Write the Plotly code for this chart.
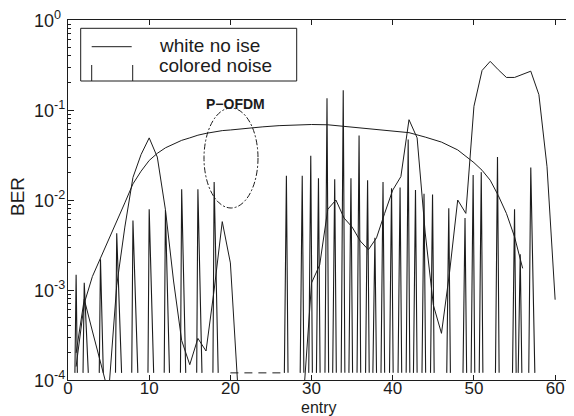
import math
import plotly.graph_objects as go

# ---------------- data ----------------
# smooth curve (white noise)
white_entry = [1, 2, 3, 4, 5, 6, 7, 8, 9, 10, 11, 12, 13, 14, 15, 16, 17, 18, 19, 20,
               22, 24, 26, 28, 30, 32, 34, 36, 38, 40, 42, 44, 46, 48, 50, 51, 52, 53,
               54, 55, 56]
white_ber = [1.41e-4, 7.1e-4, 1.41e-3, 2.24e-3, 3.55e-3, 5.6e-3, 9.3e-3, 1.51e-2, 2.09e-2,
             2.75e-2, 3.3e-2, 3.8e-2, 4.2e-2, 4.6e-2, 4.9e-2, 5.25e-2, 5.5e-2, 5.7e-2,
             5.9e-2, 6.0e-2, 6.3e-2, 6.5e-2, 6.7e-2, 6.85e-2, 6.9e-2, 6.85e-2, 6.6e-2,
             6.3e-2, 6.1e-2, 5.8e-2, 5.6e-2, 5.0e-2, 4.4e-2, 3.6e-2, 2.6e-2, 2.14e-2,
             1.66e-2, 1.12e-2, 7.1e-3, 3.9e-3, 1.74e-3]

# colored noise: isolated spikes (zero-BER samples are dropped on the log axis)
spike_rise = [0.85, 1.85, 3.85, 5.85, 7.85, 9.85, 11.85, 13.85, 15.85, 17.85,
              26.65, 28.6, 29.65, 30.6, 31.65, 32.6, 33.65, 34.6, 35.6, 36.65,
              37.55, 38.55, 39.6, 40.65, 41.65, 42.55, 43.6, 44.65, 46.65, 48.65,
              49.65, 50.65, 52.65, 54.75, 55.45, 56.75]
spike_entry = [1.0, 2.0, 4.0, 6.0, 8.0, 10.0, 12.0, 14.0, 16.0, 18.0,
               26.9, 28.85, 29.9, 30.85, 31.9, 32.85, 33.9, 34.85, 35.85, 36.9,
               37.8, 38.8, 39.85, 40.9, 41.9, 42.8, 43.85, 44.9, 46.9, 48.9,
               49.9, 50.9, 52.9, 55.0, 55.7, 57.0]
spike_fall = [1.15, 2.5, 4.35, 6.6, 8.6, 10.55, 12.5, 14.5, 16.5, 18.5,
              27.1, 29.05, 30.1, 31.05, 32.1, 33.05, 34.1, 35.05, 36.05, 37.1,
              38.0, 39.0, 40.05, 41.1, 42.1, 43.0, 44.05, 45.1, 47.1, 49.1,
              50.1, 51.1, 53.1, 55.2, 55.9, 57.5]
spike_ber = [1.48e-3, 1.2e-3, 2.19e-3, 4.27e-3, 5.9e-3, 7.9e-3, 7.8e-3, 1.32e-2, 1.32e-2,
             1.58e-2, 1.86e-2, 1.86e-2, 3.1e-2, 1.74e-2, 0.135, 1.7e-2, 0.166, 1.74e-2,
             5.2e-2, 1.66e-2, 3.8e-3, 1.58e-2, 1.35e-2, 1.38e-2, 4.7e-2, 1.29e-2,
             1.17e-2, 1.15e-2, 8.1e-3, 6.3e-3, 1.9e-2, 2.04e-2, 3.0e-2, 7.9e-3,
             2.5e-3, 2.3e-2]
floor_ber = 1.2e-4
floor_entry = [20.0, 26.3]

# jagged curve (no legend entry)
jag_entry = [1, 2, 3, 4, 5, 6, 7, 8, 9, 10, 11, 12, 13, 14, 15, 16, 17, 18, 19, 20, 21,
             None,
             29, 30, 31, 32, 33, 34, 35, 36, 37, 38, 39, 40, 41, 42, 43, 44, 45, 46, 47,
             48, 49, 50, 51, 52, 53, 54, 55, 56, 57, 58, 59, 60]
jag_ber = [2.0e-4, 7.9e-4, 3.5e-4, 1.58e-4, 7.1e-5, 1.12e-3, 5.0e-3, 1.78e-2, 3.2e-2,
           4.9e-2, 3.0e-2, 7.8e-3, 1.26e-3, 2.75e-4, 1.48e-4, 2.9e-4, 2.1e-4, 1.0e-3,
           5.75e-3, 2.0e-3, 6.3e-5,
           None,
           6.3e-5, 1.2e-3, 1.9e-3, 7.9e-3, 1.0e-2, 6.3e-3, 5.0e-3, 3.5e-3, 2.8e-3,
           3.8e-3, 7.1e-3, 1.29e-2, 1.82e-2, 7.8e-2, 4.9e-2, 4.3e-3, 6.8e-4, 3.3e-4,
           1.58e-3, 1.0e-2, 7.1e-3, 0.11, 0.275, 0.347, 0.28, 0.23, 0.23, 0.25, 0.27,
           0.148, 0.0234, 7.8e-4]

x_ticks = [0, 10, 20, 30, 40, 50, 60]
y_ticks = [1e-4, 1e-3, 1e-2, 1e-1, 1e0]
y_tick_text = ["10<sup>-4</sup>", "10<sup>-3</sup>", "10<sup>-2</sup>",
               "10<sup>-1</sup>", "10<sup>0</sup>"]

# ---------------- build ----------------
col_x, col_y = [], []
for r, p, f, h in zip(spike_rise, spike_entry, spike_fall, spike_ber):
    col_x += [r, p, f, None]
    col_y += [floor_ber, h, floor_ber, None]

INK = "#1c1c1c"
FONT = "Liberation Sans, Arial, sans-serif"

fig = go.Figure()
fig.add_trace(go.Scatter(x=white_entry, y=white_ber, mode="lines", name="white no ise",
                         line=dict(color=INK, width=1), showlegend=False))
fig.add_trace(go.Scatter(x=col_x, y=col_y, mode="lines", name="colored noise",
                         line=dict(color=INK, width=1.1), connectgaps=False,
                         showlegend=False))
fig.add_trace(go.Scatter(x=floor_entry, y=[floor_ber, floor_ber], mode="lines",
                         line=dict(color=INK, width=1, dash="8px,6px"),
                         showlegend=False, hoverinfo="skip"))
fig.add_trace(go.Scatter(x=jag_entry, y=jag_ber, mode="lines", name="",
                         line=dict(color=INK, width=1), connectgaps=False,
                         showlegend=False))

# the page body adds an 8px margin around the figure
OFF = 8
W, H = 574 - OFF, 416 - OFF
L, R, T, B = 68 - OFF, 1, 20 - OFF, 36
pw, ph = W - L - R, H - T - B


def px(xp):
    """window pixel x -> paper x"""
    return (xp - OFF - L) / pw


def py(yp):
    """window pixel y -> paper y"""
    return (H - B - (yp - OFF)) / ph


shapes = [
    # legend box
    dict(type="rect", xref="paper", yref="paper", x0=px(80.7), x1=px(296.7),
         y0=py(81), y1=py(28.3), line=dict(color=INK, width=1), fillcolor="white"),
    dict(type="line", xref="paper", yref="paper", x0=px(91.7), x1=px(131.7),
         y0=py(46.7), y1=py(46.7), line=dict(color=INK, width=1)),
    dict(type="line", xref="paper", yref="paper", x0=px(91.7), x1=px(91.7),
         y0=py(81), y1=py(65), line=dict(color=INK, width=1)),
    dict(type="line", xref="paper", yref="paper", x0=px(132.7), x1=px(132.7),
         y0=py(81), y1=py(65), line=dict(color=INK, width=1)),
    # P-OFDM ellipse
    dict(type="circle", xref="paper", yref="paper", x0=px(204), x1=px(258),
         y0=py(208), y1=py(108), line=dict(color=INK, width=1, dash="6px,2px,2px,2px")),
]

annotations = [
    dict(text="white no ise", xref="paper", yref="paper", x=px(156.5), y=py(45.5),
         xanchor="left", yanchor="middle", showarrow=False,
         font=dict(size=19, color=INK, family=FONT)),
    dict(text="colored noise", xref="paper", yref="paper", x=px(156.5), y=py(65),
         xanchor="left", yanchor="middle", showarrow=False,
         font=dict(size=19, color=INK, family=FONT)),
    dict(text="<b>P−OFDM</b>", xref="paper", yref="paper", x=px(235), y=py(104),
         xanchor="center", yanchor="middle", showarrow=False,
         font=dict(size=14, color=INK, family=FONT)),
    dict(text="entry", xref="paper", yref="paper", x=px(319), y=py(407),
         xanchor="center", yanchor="middle", showarrow=False,
         font=dict(size=16, color=INK, family=FONT)),
    dict(text="BER", xref="paper", yref="paper", x=px(17), y=py(197),
         xanchor="center", yanchor="middle", textangle=-90, showarrow=False,
         font=dict(size=19, color=INK, family=FONT)),
]
for v, t in zip(y_ticks, y_tick_text):
    yp = 380 - 360 * (math.log10(v) + 4) / 4
    annotations.append(dict(text=t, xref="paper", yref="paper", x=px(32), y=py(yp),
                            xanchor="left", yanchor="middle", yshift=1,
                            showarrow=False,
                            font=dict(size=18, color=INK, family=FONT)))

fig.update_layout(
    width=W, height=H,
    margin=dict(l=L, r=R, t=T, b=B, autoexpand=False),
    paper_bgcolor="white", plot_bgcolor="white",
    font=dict(family=FONT, color=INK),
    showlegend=False,
    shapes=shapes, annotations=annotations,
    xaxis=dict(range=[0, 62.2], tickmode="array", tickvals=x_ticks,
               ticks="inside", ticklen=5, tickcolor=INK, showline=True,
               linecolor=INK, linewidth=1, mirror="ticks", showgrid=False,
               zeroline=False, ticklabelstandoff=-7,
               tickfont=dict(size=17, color=INK, family=FONT)),
    yaxis=dict(type="log", range=[-4, 0], tickmode="array", tickvals=y_ticks,
               showticklabels=False, ticks="inside", ticklen=6, tickcolor=INK,
               showline=True, linecolor=INK, linewidth=1, mirror="ticks",
               showgrid=False, zeroline=False,
               minor=dict(ticks="inside", ticklen=3, tickcolor=INK,
                          tickvals=[k * 10 ** e for e in range(-4, 0) for k in range(2, 10)])),
)

fig.write_html("out.html")
